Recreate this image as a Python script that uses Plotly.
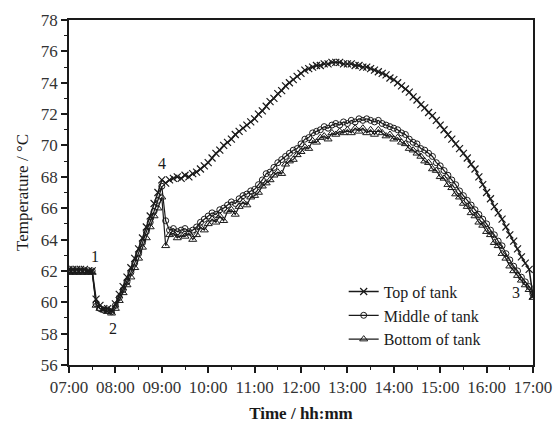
import plotly.graph_objects as go

# time in minutes since 07:00, sampled every 5 minutes
minutes = list(range(0, 601, 5))

top_of_tank = [
    62.1, 62.1, 62.1, 62.1, 62.1, 62.0, 62.0,
    60.2, 59.8, 59.6, 59.6, 59.5, 59.9,
    60.5, 61.0, 61.6, 62.2, 62.8, 63.4, 64.1, 64.8, 65.5, 66.3, 67.0, 67.8,
    67.6, 67.8, 67.9, 68.0, 67.9, 68.1, 68.0, 68.2, 68.3, 68.5, 68.7, 68.9,
    69.2, 69.5, 69.7, 70.0, 70.2, 70.4, 70.7, 70.9, 71.1, 71.3, 71.5, 71.7,
    72.0, 72.2, 72.5, 72.8, 73.0, 73.3, 73.5, 73.8, 74.0, 74.2, 74.4, 74.6,
    74.8, 74.9, 75.0, 75.1, 75.1, 75.2, 75.2, 75.3, 75.3, 75.3, 75.2, 75.2,
    75.2, 75.1, 75.1, 75.0, 75.0, 74.9, 74.8, 74.7, 74.6, 74.5, 74.3, 74.2,
    74.0, 73.8, 73.6, 73.4, 73.1, 72.9, 72.6, 72.4, 72.1, 71.9, 71.6, 71.3,
    71.0, 70.7, 70.4, 70.1, 69.8, 69.5, 69.2, 68.8, 68.5, 68.0, 67.5, 67.0,
    66.6, 66.1, 65.7, 65.3, 64.8, 64.3, 63.9, 63.4, 62.9, 62.5, 62.1, 60.4,
]

middle_of_tank = [
    62.0, 62.0, 62.0, 62.0, 62.0, 62.0, 62.0,
    59.9, 59.6, 59.5, 59.5, 59.4, 59.8,
    60.3, 60.8, 61.3, 61.9, 62.5, 63.1, 63.8, 64.5, 65.1, 65.8, 66.5, 67.4,
    65.2, 64.6, 64.7, 64.5, 64.6, 64.7, 64.5, 64.6, 64.8, 65.1, 65.3, 65.5,
    65.7, 65.6, 65.9, 66.0, 66.2, 66.4, 66.3, 66.6, 66.8, 66.9, 67.1, 67.2,
    67.5, 67.8, 68.2, 68.3, 68.6, 68.9, 69.1, 69.3, 69.5, 69.7, 69.8, 70.1,
    70.4, 70.5, 70.8, 70.9, 71.0, 71.2, 71.1, 71.3, 71.4, 71.3, 71.5, 71.4,
    71.6, 71.5, 71.7, 71.6, 71.7, 71.6, 71.5, 71.6, 71.4, 71.3, 71.2, 71.1,
    71.0, 70.8, 70.7, 70.4, 70.2, 70.1, 69.8, 69.7, 69.5, 69.3, 68.9, 68.7,
    68.4, 68.1, 67.8, 67.5, 67.1, 66.8, 66.5, 66.2, 65.9, 65.6, 65.3, 65.0,
    64.6, 64.3, 63.9, 63.6, 63.1, 62.7, 62.3, 62.0, 61.6, 61.3, 61.0, 60.5,
]

bottom_of_tank = [
    61.9, 61.9, 61.9, 61.9, 61.9, 61.9, 61.9,
    59.8, 59.6, 59.5, 59.4, 59.3, 59.6,
    60.1, 60.6, 61.1, 61.6, 62.2, 62.8, 63.5, 64.1, 64.8, 65.5, 66.0, 66.7,
    63.6, 64.3, 64.4, 64.1, 64.3, 64.2, 64.4, 64.0, 64.3, 64.8, 64.6, 65.0,
    65.3, 65.1, 65.5, 65.2, 65.8, 65.9, 65.6, 66.1, 66.4, 66.2, 66.7, 66.8,
    67.0, 67.4, 67.6, 67.8, 68.1, 68.3, 68.2, 68.8, 69.0, 69.1, 69.4, 69.6,
    69.9, 69.8, 70.3, 70.2, 70.5, 70.6, 70.4, 70.8, 70.7, 70.9, 70.8, 71.0,
    70.8, 71.1, 70.9, 71.1, 70.8, 71.0, 70.7, 71.0, 70.8, 70.6, 70.7, 70.4,
    70.5, 70.2, 70.1, 69.8, 69.7, 69.5, 69.3, 69.0, 68.9, 68.5, 68.4, 68.0,
    67.9, 67.5, 67.3, 66.9, 66.7, 66.3, 66.1, 65.7, 65.5, 65.1, 64.9, 64.5,
    64.3, 63.8, 63.6, 63.1, 62.8, 62.3, 62.0, 61.7, 61.4, 61.1, 60.8, 60.3,
]

x_tick_vals = [0, 60, 120, 180, 240, 300, 360, 420, 480, 540, 600]
x_tick_text = ["07:00", "08:00", "09:00", "10:00", "11:00", "12:00",
               "13:00", "14:00", "15:00", "16:00", "17:00"]

# event labels: (text, minute, temperature)
event_labels = ["1", "2", "4", "3"]
event_minutes = [34, 57, 120, 578]
event_temps = [62.95, 58.35, 68.85, 60.6]

FONT = "Liberation Serif, Times New Roman, serif"
INK = "#1a1a1a"

fig = go.Figure()
fig.add_trace(go.Scatter(
    x=minutes, y=top_of_tank, mode="lines+markers", name="Top of tank",
    line=dict(color=INK, width=1.5),
    marker=dict(symbol="x-thin-open", size=7, line=dict(color=INK, width=1.2)),
))
fig.add_trace(go.Scatter(
    x=minutes, y=middle_of_tank, mode="lines+markers", name="Middle of tank",
    line=dict(color=INK, width=1.2),
    marker=dict(symbol="circle-open", size=6, color=INK, line=dict(color=INK, width=1)),
))
fig.add_trace(go.Scatter(
    x=minutes, y=bottom_of_tank, mode="lines+markers", name="Bottom of tank",
    line=dict(color=INK, width=1.2),
    marker=dict(symbol="triangle-up-open", size=7, color=INK, line=dict(color=INK, width=1)),
))

for t, xm, yv in zip(event_labels, event_minutes, event_temps):
    fig.add_annotation(x=xm, y=yv, xref="x", yref="y", text=t, showarrow=False,
                       font=dict(family=FONT, size=16, color=INK))

fig.update_layout(
    width=553, height=423,
    margin=dict(l=69, r=20, t=20, b=58, autoexpand=False),
    paper_bgcolor="white", plot_bgcolor="white",
    font=dict(family=FONT, size=17, color=INK),
    showlegend=True,
    legend=dict(x=0.592, y=0.262, xanchor="left", yanchor="top",
                bgcolor="rgba(0,0,0,0)", font=dict(family=FONT, size=16, color=INK),
                tracegroupgap=0, itemwidth=30),
)
fig.update_xaxes(
    range=[0, 600], tickvals=x_tick_vals, ticktext=x_tick_text,
    showgrid=False, zeroline=False, automargin=False,
    showline=True, linecolor=INK, linewidth=1.5, mirror=True,
    ticks="outside", ticklen=6, tickwidth=1.5, tickcolor=INK,
    minor=dict(ticks="outside", dtick=30, tick0=0, ticklen=3, tickwidth=1.2, tickcolor=INK),
    tickfont=dict(family=FONT, size=17, color="#333"),
    title=dict(text="<b>Time / hh:mm</b>", font=dict(family=FONT, size=17, color=INK), standoff=12),
)
fig.update_yaxes(
    range=[56, 78], dtick=2, tick0=56,
    showgrid=False, zeroline=False, automargin=False,
    showline=True, linecolor=INK, linewidth=1.5, mirror=True,
    ticks="outside", ticklen=6, tickwidth=1.5, tickcolor=INK,
    minor=dict(ticks="outside", dtick=1, tick0=56, ticklen=3, tickwidth=1.2, tickcolor=INK),
    tickfont=dict(family=FONT, size=17, color="#333"),
    title=dict(text="Temperature / °C", font=dict(family=FONT, size=17, color=INK), standoff=8),
)

fig.write_html(
    "out.html",
    config={"displayModeBar": False},
    post_script="document.body.style.margin='0';document.body.style.overflow='hidden';",
)
